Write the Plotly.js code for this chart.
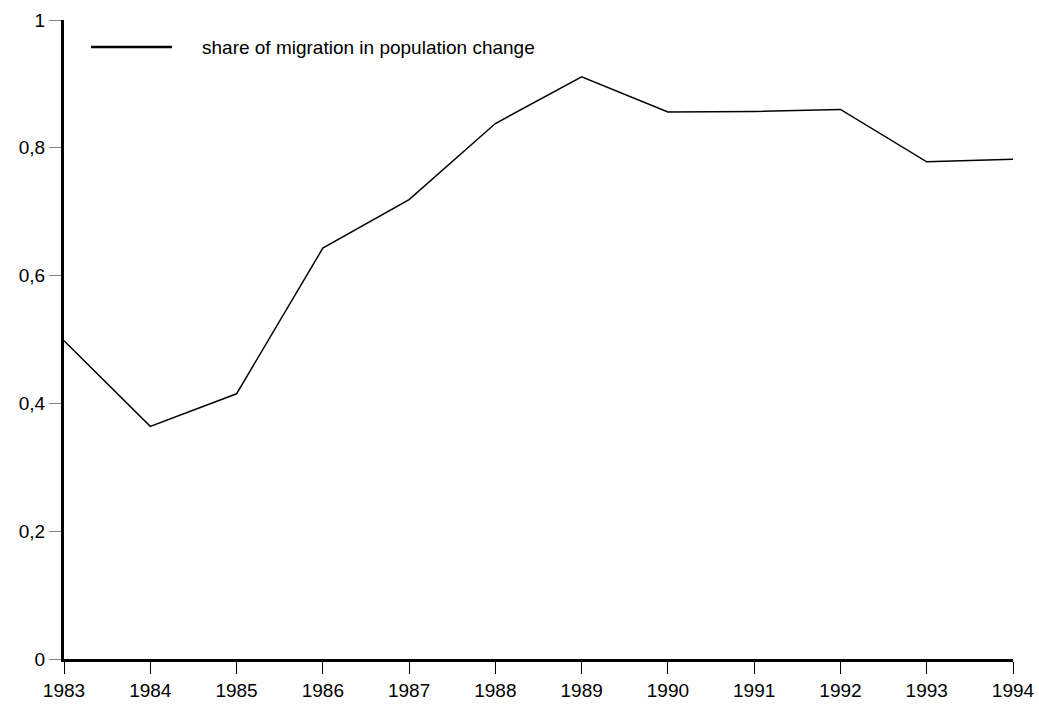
<!DOCTYPE html>
<html>
<head>
<meta charset="utf-8">
<script src="https://cdn.plot.ly/plotly-3.0.1.min.js"></script>
<style>html,body{margin:0;padding:0;background:#fff;}#chart{width:1039px;height:704px;}</style>
</head>
<body>
<div id="chart"></div>
<script>
const years = [1983, 1984, 1985, 1986, 1987, 1988, 1989, 1990, 1991, 1992, 1993, 1994];
const migrationShare = [0.498, 0.364, 0.415, 0.643, 0.719, 0.838, 0.911, 0.856, 0.857, 0.860, 0.778, 0.782];
const seriesName = 'share of migration in population change';
const yTickVals = [0, 0.2, 0.4, 0.6, 0.8, 1];
const yTickText = ['0', '0,2', '0,4', '0,6', '0,8', '1'];

const trace = {
  x: years, y: migrationShare, type: 'scatter', mode: 'lines',
  name: seriesName, line: {color: '#000', width: 1.5}, showlegend: false
};
const layout = {
  width: 1039, height: 704,
  margin: {l: 64, r: 26, t: 20, b: 45},
  paper_bgcolor: '#fff', plot_bgcolor: '#fff',
  font: {family: 'Liberation Sans, Arial, sans-serif', size: 19, color: '#000'},
  showlegend: false,
  shapes: [{type: 'line', xref: 'paper', yref: 'paper', x0: 0.0285, x1: 0.1138, y0: 0.9577, y1: 0.9577,
            line: {color: '#000', width: 2.5}}],
  annotations: [{xref: 'paper', yref: 'paper', x: 0.1433, y: 0.9577, xanchor: 'left', yanchor: 'middle',
                 text: seriesName, showarrow: false, font: {size: 19, color: '#000'}}],
  xaxis: {range: [1983, 1994], tickvals: years, ticktext: years.map(String),
          showgrid: false, zeroline: false, showline: true, linecolor: '#000', linewidth: 3,
          ticks: 'outside', ticklen: 12, tickcolor: '#000', tickwidth: 1},
  yaxis: {range: [0, 1], tickvals: yTickVals, ticktext: yTickText,
          showgrid: false, zeroline: false, showline: true, linecolor: '#000', linewidth: 3,
          ticks: 'outside', ticklen: 12, tickcolor: '#808080', tickwidth: 1}
};
Plotly.newPlot('chart', [trace], layout, {displayModeBar: false});
</script>
</body>
</html>
